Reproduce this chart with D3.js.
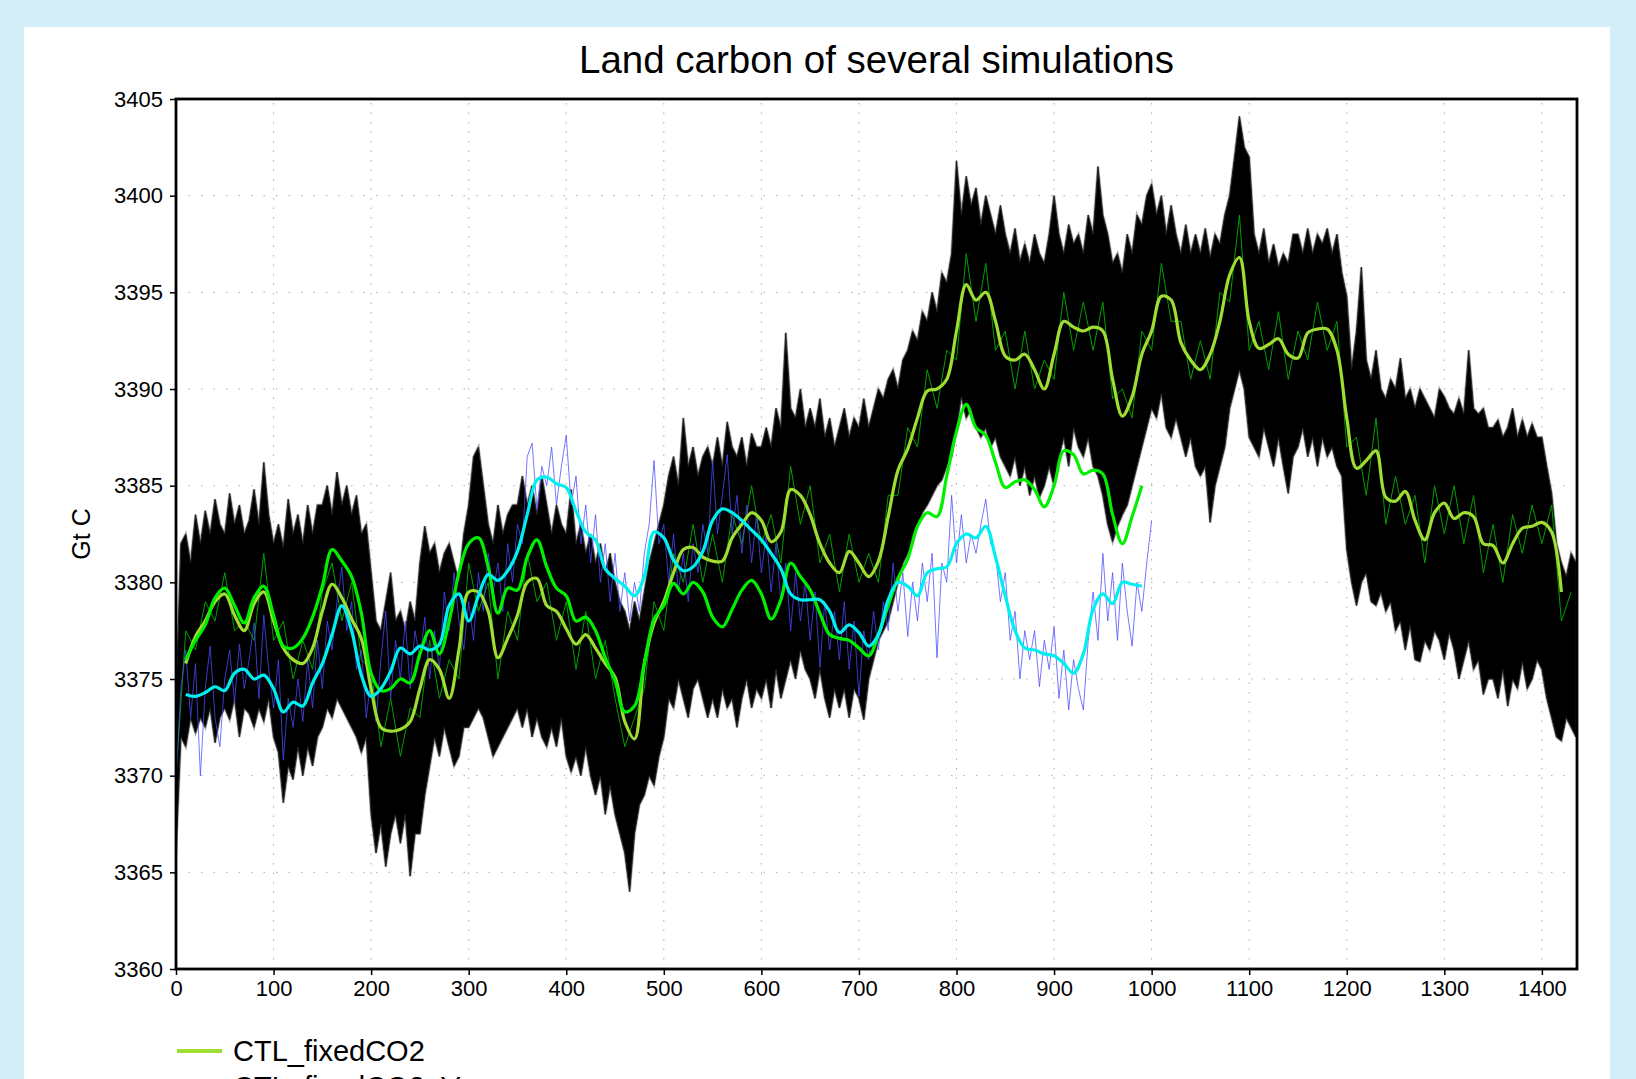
<!DOCTYPE html>
<html>
<head>
<meta charset="utf-8">
<script src="https://cdn.jsdelivr.net/npm/d3@7"></script>
<style>
  html, body { margin: 0; padding: 0; background: #d3eef7; }
  svg { display: block; }
  text { font-family: "Liberation Sans", Arial, Helvetica, sans-serif; fill: #000; }
</style>
</head>
<body>
<svg id="chart" width="1636" height="1079"></svg>
<script>
// ---- data (Gt C) ----
var xTicks = [0,100,200,300,400,500,600,700,800,900,1000,1100,1200,1300,1400];
var yTicks = [3360,3365,3370,3375,3380,3385,3390,3395,3400,3405];

// black spread band, every 5 years from year 0
var bandHi = [
  3374,3382,3382.5,3381,3383.5,3382,3383.7,3382.5,3384.3,3383,
  3382.5,3384.6,3383,3384,3382.5,3383.2,3384.8,3383,3386.2,3383.5,
  3382,3383,3381.8,3384.3,3382.5,3383.5,3382,3384,3382.5,3384,
  3384,3385,3383.5,3385.7,3384,3385,3383.5,3384.5,3382.5,3383,
  3380.5,3378,3377.5,3379,3380.5,3378,3378.5,3377.5,3379,3378,
  3381,3382.9,3381.5,3382,3380.5,3381.5,3382,3381,3380,3382.5,
  3384,3386.5,3387,3385,3383,3382,3384,3382.5,3383.5,3384,
  3384,3385.5,3384,3385,3383.5,3385.5,3384,3382.5,3384,3383,
  3382.5,3384.8,3382,3383,3381.5,3382.5,3381,3382,3380.5,3381.5,
  3380,3379,3378.5,3377.5,3379,3378,3379.5,3381,3382,3383,
  3384,3385.5,3386.5,3385,3388.5,3386,3387,3385.5,3386.5,3387,
  3386,3387.5,3386,3388.3,3387,3386.5,3387.5,3386,3387.7,3387,
  3387,3388,3387,3389,3388,3392.9,3389,3388.5,3390,3388,
  3389,3388,3389.5,3387.5,3388.5,3387,3388,3389,3387.5,3388.5,
  3388,3389.5,3388,3389,3390,3389.5,3390.5,3391,3390,3391.5,
  3392,3393,3392.5,3394,3393.5,3395,3394,3396,3395.5,3397,
  3401.8,3399,3401,3399.5,3400.4,3398.5,3400,3399,3398,3399.5,
  3398,3397,3398.3,3396.6,3397.5,3396.5,3398,3397,3396.5,3398,
  3400,3398,3397,3398.5,3397.5,3398,3397,3399,3398,3401.5,
  3399,3398,3396.5,3397,3396,3398,3397,3399,3398.5,3400,
  3400.6,3399,3400,3398,3399.5,3398,3397,3398.5,3397,3398,
  3397,3398.3,3396.8,3398,3397.5,3399,3400,3402,3404.1,3402.5,
  3402,3398,3397,3398.3,3396.5,3397.5,3396.3,3397,3396.5,3398,
  3398,3397,3398.3,3397,3398,3397.5,3398.3,3397,3398,3396,
  3394.8,3391,3393,3396.3,3391.5,3390.5,3392,3390,3389.5,3390.5,
  3390,3391.6,3389.5,3390,3389,3390,3389.5,3389,3388.5,3390,
  3389.6,3389,3388.7,3389.5,3388.7,3392,3389,3388.7,3389,3388,
  3388,3388.4,3387.5,3388,3389,3387.5,3388.4,3387.5,3388.2,3387.5,
  3387.5,3386,3384.6,3382,3381,3380.3,3381.5,3381
];
var bandLo = [
  3366,3372,3371.5,3373,3372.2,3373,3372.5,3373.5,3371.7,3373,
  3373.5,3372.9,3374,3372,3373.5,3373.2,3372.5,3373.5,3372.8,3374,
  3372,3371.2,3368.6,3370.5,3369.8,3371.5,3370,3371.5,3370.5,3372,
  3372.5,3373.5,3373,3374,3373.5,3373,3372.5,3372,3371.2,3372,
  3368,3366,3367.5,3365.3,3367,3368,3366.5,3368,3364.8,3367,
  3367,3369,3370.5,3372,3371,3372.5,3371.5,3370.5,3371,3372.5,
  3372.5,3373,3373.5,3373,3372,3371,3371.5,3372,3372.5,3373,
  3373.5,3372.5,3373.5,3372,3373,3372,3371.5,3372.5,3371.5,3373,
  3371,3370.2,3371,3370,3371.5,3370,3369,3370,3368,3369.5,
  3368,3367,3366,3364,3367,3368.5,3369,3370,3369.5,3371,
  3372,3374,3373.5,3375,3374,3373,3374.5,3375,3374,3373,
  3374,3373,3374.5,3373.5,3374,3372.5,3374,3375,3373.5,3374.5,
  3374,3375,3373.5,3375.5,3374,3375,3376,3375,3376.5,3375.5,
  3375,3374,3375.5,3374,3373,3374.5,3373.5,3374.5,3373,3374.5,
  3374,3372.9,3375,3376,3377,3377.5,3378,3379,3380,3381,
  3381.5,3382,3383,3383.6,3384,3384.5,3385,3385.3,3386,3386.5,
  3388,3389.6,3388.5,3389,3388,3387.5,3388,3387,3387.5,3386.5,
  3386,3385.5,3386.5,3385,3386,3384.5,3385.5,3384.4,3385,3386,
  3385,3386.5,3387.5,3386,3388,3387,3386.5,3387.5,3386,3385.5,
  3384.5,3383,3382.1,3382.9,3383.5,3384,3385,3386,3387,3388,
  3389,3388.5,3389.8,3388,3387.5,3388.5,3387.5,3386.5,3387.5,3386,
  3385.5,3386,3383.1,3385,3386,3387,3389,3390,3391,3390,
  3387.5,3387,3386.5,3388,3387,3386,3387.5,3386,3384.6,3386.5,
  3387,3388,3386.5,3387.5,3386,3387.5,3386.5,3387,3386,3385.5,
  3381.7,3380,3378.8,3380,3380.5,3379,3378.8,3379.5,3378.5,3379,
  3377.5,3378,3376.5,3377.8,3376,3375.9,3377,3376.5,3377.5,3377,
  3376,3377.4,3376.5,3375,3376,3377,3375.5,3376,3374.2,3375,
  3375,3374,3375.5,3373.6,3375,3374.5,3375.9,3374.5,3375,3376,
  3375.5,3374,3373,3372,3371.8,3373,3372.5,3372
];

// thin dark green line inside the band, every 10 years from year 0
var ctlThin = [
  3370,3377.5,3376.5,3379,3378,3380.5,3377.5,3378,3377,3381.5,
  3377,3378,3375,3377,3375.5,3379.5,3381,3378,3380,3376,
  3375.5,3371.5,3374,3371,3373.5,3373,3377,3374,3376,3375,
  3381,3378.5,3380,3375,3378.5,3377,3381.5,3379,3380,3377,
  3379,3375.5,3378.5,3375,3377,3374,3371.5,3373,3374.5,3379,
  3377.5,3381.5,3380,3383,3380,3382.5,3380,3383.5,3382,3385,
  3382,3383.5,3381,3386,3383,3385,3381,3382.5,3379.5,3382.5,
  3380,3381.5,3380,3384.5,3384.5,3388,3387,3391,3389,3392,
  3391.5,3397,3393.5,3396.5,3392,3393,3390,3393,3390,3391.5,
  3390.5,3395,3392,3394.5,3392,3394.5,3389.5,3390,3388.5,3393,
  3392,3396.5,3393.5,3393.5,3390.5,3392.5,3390.5,3395,3394.5,3399,
  3392,3393.5,3391,3394,3390.5,3393,3391.5,3394.5,3392,3393.5,
  3387,3387.5,3384.5,3388.5,3383,3385.5,3383,3384.5,3381,3385,
  3382.5,3385,3382,3384.5,3380.5,3383,3380,3383.5,3381.5,3384,
  3382,3384,3378,3379.5
];

// CTL_fixedCO2 running mean, every 10 years from year 10
var ctlMean = [
  3375.8,3377.2,3378.0,3379.0,3379.4,3378.3,3377.5,3378.9,3379.5,3378.0,
  3376.6,3376.0,3375.8,3376.6,3378.5,3379.9,3379.2,3378.1,3377.1,3374.5,
  3372.5,3372.3,3372.4,3372.8,3374.5,3376.0,3375.5,3374.0,3376.5,3379.5,
  3379.5,3378.5,3376.1,3377.1,3378.3,3380.0,3380.2,3378.8,3378.5,3377.6,
  3376.8,3377.3,3376.6,3375.8,3375.1,3372.8,3371.9,3375.8,3377.9,3379.0,
  3380.5,3381.7,3381.8,3381.3,3381.1,3381.1,3382.3,3383.0,3383.6,3383.2,
  3382.1,3382.6,3384.8,3384.5,3383.5,3382.0,3381.0,3380.5,3381.6,3381.0,
  3380.3,3381.1,3383.4,3385.8,3386.9,3388.5,3389.9,3390.0,3390.5,3393.0,
  3395.4,3394.6,3395.0,3393.5,3391.7,3391.5,3391.8,3391.0,3390.0,3391.8,
  3393.5,3393.2,3393.0,3393.2,3393.0,3390.5,3388.6,3389.6,3391.8,3393.0,
  3394.8,3394.6,3392.4,3391.5,3391.0,3391.8,3393.5,3395.9,3396.8,3393.5,
  3392.1,3392.3,3392.6,3391.8,3391.6,3392.9,3393.1,3393.1,3392.0,3388.5,
  3385.9,3386.3,3386.8,3384.4,3384.2,3384.7,3383.2,3382.2,3383.6,3384.1,
  3383.3,3383.6,3383.4,3382.0,3381.9,3381.0,3382.0,3382.8,3382.9,3383.1,
  3382.6,3379.5
];

// second run running mean (lime), every 10 years from year 10
var vegMean = [
  3376.0,3377.0,3377.8,3379.2,3379.7,3378.8,3377.9,3379.2,3379.8,3378.3,
  3376.7,3376.6,3377.1,3378.2,3379.8,3381.7,3381.1,3380.3,3378.4,3375.3,
  3374.4,3374.5,3375.0,3374.8,3376.3,3377.5,3376.3,3378.0,3380.5,3382.0,
  3382.3,3380.8,3378.4,3379.7,3379.6,3381.3,3382.2,3380.8,3379.7,3379.3,
  3378.0,3378.2,3377.5,3376.1,3374.9,3373.3,3373.6,3375.8,3378.1,3378.8,
  3379.95,3379.4,3380.0,3379.5,3378.2,3377.7,3378.6,3379.6,3380.1,3379.4,
  3378.1,3379.1,3381.0,3380.3,3379.6,3378.4,3377.3,3377.1,3377.0,3376.6,
  3376.2,3377.3,3378.8,3380.2,3381.2,3382.9,3383.6,3383.4,3385.5,3387.8,
  3389.2,3388.0,3387.6,3386.2,3384.9,3385.2,3385.3,3384.8,3383.9,3385.0,
  3386.8,3386.6,3385.6,3385.8,3385.6,3383.5,3382.0,3383.4,3385.0
];

// third run: thin blue raw values every 5 years from 0, cyan running mean every 10 from 10
var runRaw = [
  3369.8,3374.5,3376.5,3373.0,3375.8,3370.0,3374.5,3376.7,3373.0,3371.5,
  3375.0,3376.5,3373.8,3376.8,3374.5,3376.0,3377.9,3374.0,3378.3,3375.5,
  3373.5,3376.0,3370.8,3374.0,3372.5,3375.0,3372.8,3376.0,3373.5,3377.0,
  3374.5,3378.0,3376.5,3379.0,3380.8,3377.5,3379.0,3375.5,3376.5,3373.0,
  3375.0,3372.8,3376.0,3378.5,3374.0,3377.0,3375.0,3378.0,3374.5,3377.5,
  3376.0,3378.2,3375.0,3377.5,3375.5,3379.5,3377.5,3380.5,3378.0,3376.5,
  3379.0,3377.0,3380.5,3378.5,3381.5,3379.5,3381.0,3378.5,3382.0,3380.0,
  3383.0,3382.0,3386.5,3387.2,3383.8,3386.0,3385.0,3387.0,3384.0,3386.0,
  3387.6,3384.0,3385.5,3382.0,3384.0,3381.0,3383.5,3380.0,3382.0,3379.0,
  3381.5,3378.5,3380.5,3378.0,3380.0,3378.5,3381.5,3383.0,3386.3,3382.0,
  3383.0,3380.0,3382.5,3379.5,3381.5,3379.0,3382.0,3380.5,3383.0,3381.5,
  3386.3,3382.5,3384.5,3386.6,3382.5,3384.5,3381.5,3384.0,3381.0,3383.5,
  3380.5,3382.5,3379.5,3382.0,3379.0,3381.0,3377.5,3380.5,3378.0,3380.0,
  3377.0,3379.5,3375.6,3379.0,3376.5,3378.5,3376.0,3379.0,3375.5,3378.0,
  3374.1,3377.5,3376.0,3378.5,3376.5,3379.0,3377.5,3381.0,3378.5,3380.5,
  3377.2,3380.0,3378.0,3381.0,3379.0,3381.5,3376.1,3381.0,3380.0,3384.5,
  3381.0,3383.5,3381.0,3382.5,3381.5,3383.0,3384.3,3382.0,3381.5,3379.0,
  3380.5,3377.0,3378.5,3375.0,3377.5,3376.0,3377.5,3374.6,3377.0,3375.5,
  3377.7,3374.0,3376.5,3373.4,3376.0,3374.5,3373.4,3377.0,3379.5,3377.0,
  3381.5,3378.0,3380.5,3377.0,3381.0,3378.5,3376.7,3380.0,3378.5,3381.0,
  3383.2
];
var runMean = [
  3374.2,3374.1,3374.3,3374.6,3374.4,3375.3,3375.5,3375.0,3375.2,3374.5,
  3373.3,3373.8,3373.6,3374.8,3375.8,3377.3,3378.8,3377.5,3375.2,3374.1,
  3374.5,3375.4,3376.6,3376.3,3376.7,3376.5,3376.8,3378.8,3379.4,3378.0,
  3379.3,3380.4,3380.1,3380.6,3381.6,3383.5,3385.3,3385.45,3385.1,3384.9,
  3383.7,3382.6,3382.2,3380.7,3380.2,3379.8,3379.3,3380.3,3382.6,3382.3,
  3381.15,3380.6,3380.8,3381.6,3383.2,3383.8,3383.6,3383.2,3382.7,3382.2,
  3381.5,3380.7,3379.4,3379.1,3379.1,3379.1,3378.5,3377.4,3377.8,3377.4,
  3376.7,3377.3,3379.1,3380.0,3379.8,3379.3,3380.5,3380.7,3380.8,3382.0,
  3382.5,3382.3,3382.9,3381.3,3379.3,3377.5,3376.6,3376.5,3376.3,3376.2,
  3375.8,3375.3,3376.3,3378.6,3379.4,3378.9,3380.0,3379.9,3379.8
];

var legendNames = ["CTL_fixedCO2", "CTL_fixedCO2_Veg"];
var legendColors = ["#a0dc32", "#00f000"];

// ---- layout ----
var width = 1636, height = 1079;
var plotL = 176, plotR = 1577, plotT = 99, plotB = 969;

var svg = d3.select("#chart");

// white panel on the blue page
svg.append("rect")
    .attr("x", 24).attr("y", 27)
    .attr("width", 1586).attr("height", height - 27)
    .attr("fill", "#fff");

var x = d3.scaleLinear().domain([0, 1436]).range([plotL, plotR]);
var y = d3.scaleLinear().domain([3360, 3405]).range([plotB, plotT]);

svg.append("defs").append("clipPath").attr("id", "plotclip")
  .append("rect")
    .attr("x", plotL).attr("y", plotT)
    .attr("width", plotR - plotL).attr("height", plotB - plotT);

/* dotted grid */
var grid = svg.append("g").attr("class", "grid");
grid.selectAll("line.gx")
    .data(xTicks.slice(1))
  .enter().append("line")
    .attr("class", "gx")
    .attr("x1", d => x(d)).attr("x2", d => x(d))
    .attr("y1", plotB).attr("y2", plotT)
    .attr("stroke", "#aaa").attr("stroke-width", 1)
    .attr("stroke-dasharray", "1.5,8");
grid.selectAll("line.gy")
    .data(yTicks.slice(1, -1))
  .enter().append("line")
    .attr("class", "gy")
    .attr("x1", plotL).attr("x2", plotR)
    .attr("y1", d => y(d)).attr("y2", d => y(d))
    .attr("stroke", "#aaa").attr("stroke-width", 1)
    .attr("stroke-dasharray", "1.5,11");

var plot = svg.append("g").attr("clip-path", "url(#plotclip)");

// band
var band = bandHi.map(function(v, i) { return {year: i * 5, hi: v, lo: bandLo[i]}; });
var area = d3.area()
    .x(d => x(d.year))
    .y0(d => y(d.lo))
    .y1(d => y(d.hi));

plot.append("path")
    .datum(band)
    .attr("d", area)
    .attr("fill", "#666")
    .attr("stroke", "#aaa")
    .attr("stroke-width", 2.5)
    .attr("stroke-linejoin", "miter");
plot.append("path")
    .datum(band)
    .attr("d", area)
    .attr("fill", "#000")
    .attr("stroke", "#222")
    .attr("stroke-width", 1);

function series(vals, start, step) {
    return vals.map(function(v, i) { return {year: start + i * step, v: v}; });
}
var line = d3.line()
    .x(d => x(d.year))
    .y(d => y(d.v));
var smooth = d3.line()
    .curve(d3.curveCatmullRom.alpha(0.5))
    .x(d => x(d.year))
    .y(d => y(d.v));

plot.append("path")
    .datum(series(ctlThin, 0, 10))
    .attr("d", line)
    .attr("fill", "none")
    .attr("stroke", "#00a000")
    .attr("stroke-width", 1);

plot.append("path")
    .datum(series(runRaw, 0, 5))
    .attr("d", line)
    .attr("fill", "none")
    .attr("stroke", "#4b4bff")
    .attr("stroke-width", 0.9)
    .attr("opacity", 0.85);

var thick = [
    {vals: ctlMean, color: legendColors[0]},
    {vals: vegMean, color: legendColors[1]},
    {vals: runMean, color: "#00f0f0"}
];
thick.forEach(function(s) {
    plot.append("path")
        .datum(series(s.vals, 10, 10))
        .attr("d", smooth)
        .attr("fill", "none")
        .attr("stroke", s.color)
        .attr("stroke-width", 3.2)
        .attr("stroke-linejoin", "round");
});

// axes
var yAxis = d3.axisLeft(y).tickValues(yTicks).tickSize(6).tickPadding(7).tickFormat(d3.format("d"));
var xAxis = d3.axisBottom(x).tickValues(xTicks).tickSize(6).tickPadding(5).tickFormat(d3.format("d"));

var gy = svg.append("g").attr("transform", "translate(" + plotL + ",0)").call(yAxis);
var gx = svg.append("g").attr("transform", "translate(0," + plotB + ")").call(xAxis);
[gx, gy].forEach(function(g) {
    g.select(".domain").remove();
    g.selectAll(".tick line").attr("stroke", "#000").attr("stroke-width", 1.5);
    g.selectAll(".tick text")
        .attr("font-size", 22)
        .attr("font-family", "Liberation Sans, Arial, sans-serif")
        .attr("fill", "#000");
});

svg.append("rect")
    .attr("x", plotL).attr("y", plotT)
    .attr("width", plotR - plotL).attr("height", plotB - plotT)
    .attr("fill", "none")
    .attr("stroke", "#000")
    .attr("stroke-width", 2.8);

// title & y label
svg.append("text")
    .attr("x", (plotL + plotR) / 2).attr("y", 73)
    .attr("text-anchor", "middle")
    .attr("font-size", 38.5)
    .text("Land carbon of several simulations");

svg.append("text")
    .attr("transform", "translate(90," + ((plotT + plotB) / 2) + ") rotate(-90)")
    .attr("text-anchor", "middle")
    .attr("font-size", 25)
    .text("Gt C");

// legend (second entry runs off the bottom of the page, as in the original)
var leg = svg.append("g");
legendNames.forEach(function(name, i) {
    var ly = 1051 + i * 36;
    leg.append("line")
        .attr("x1", 177).attr("x2", 222)
        .attr("y1", ly).attr("y2", ly)
        .attr("stroke", legendColors[i]).attr("stroke-width", 4);
    leg.append("text")
        .attr("x", 233).attr("y", ly + 10)
        .attr("font-size", 29)
        .text(name);
});
</script>
</body>
</html>
